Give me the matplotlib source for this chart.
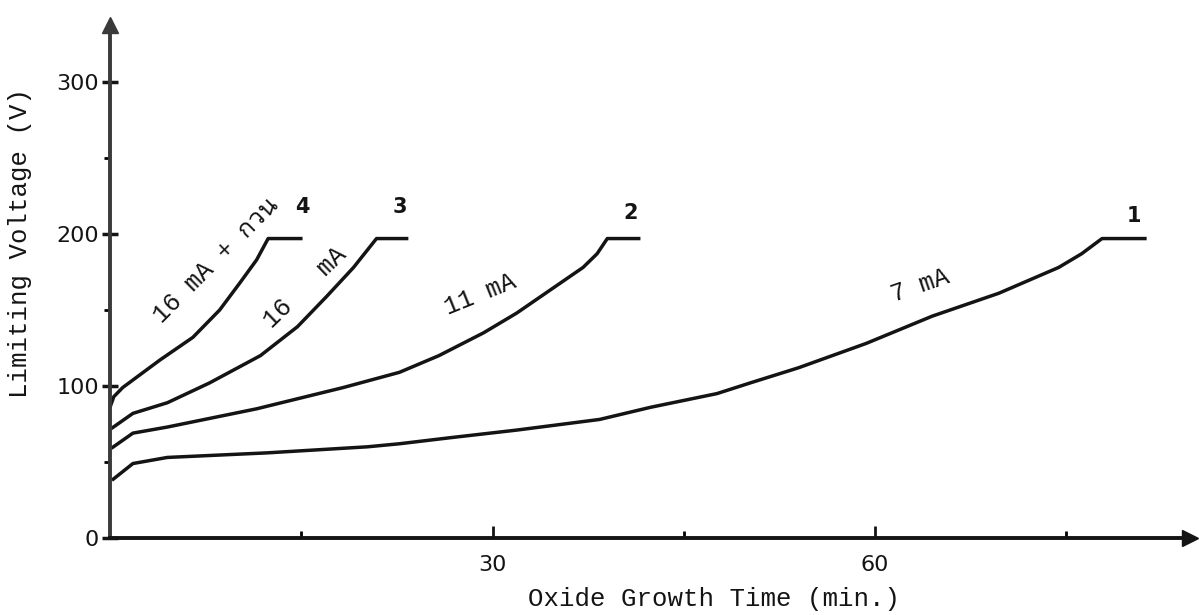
import matplotlib
matplotlib.use("Agg")
import matplotlib.pyplot as plt
from matplotlib import font_manager
from matplotlib.ft2font import FT2Font

# curve 1: 7 mA
t1 = [0.15, 1.8, 4.5, 12.3, 20.2, 22.7, 26.7, 31.9, 38.4, 42.4, 47.6, 50.2, 54.0, 59.3, 64.5, 69.7, 74.4, 76.2, 77.8, 81.3]
v1 = [38, 49, 53, 56, 60, 62, 66, 71, 78, 86, 95, 102, 112, 128, 146, 161, 178, 187, 197, 197]
# curve 2: 11 mA
t2 = [0.1, 1.8, 4.5, 11.5, 18.3, 22.7, 25.8, 29.3, 31.9, 34.5, 37.1, 38.2, 39.0, 41.6]
v2 = [59, 69, 73, 85, 99, 109, 120, 135, 148, 163, 178, 187, 197, 197]
# curve 3: 16 mA
t3 = [0.1, 1.8, 4.5, 7.8, 11.8, 14.7, 17.0, 19.1, 20.9, 23.4]
v3 = [72, 82, 89, 102, 120, 139, 159, 178, 197, 197]
# curve 4: 16 mA + stirring
t4 = [0.0, 0.3, 1.0, 3.9, 6.5, 8.6, 10.2, 11.5, 12.4, 15.1]
v4 = [86, 93, 99, 117, 132, 150, 168, 183, 197, 197]

curve_numbers = ["1", "2", "3", "4"]
number_pos = [(80.3, 212), (40.8, 214), (22.7, 218), (15.1, 218)]
curve_texts = ["7 mA", "11 mA", "16   mA", "16 mA + กวน"]
text_pos = [(63.5, 166), (29.0, 160), (15.3, 165), (8.3, 183)]
text_rot = [19, 22, 44, 45]

x_major = [30, 60]
x_minor = [15, 45, 75]
y_major = [0, 100, 200, 300]
y_minor = [50, 150, 250]


def thai_font():
    # look for any installed font that carries Thai glyphs
    for f in font_manager.fontManager.ttflist:
        try:
            if 0x0E01 in FT2Font(f.fname).get_charmap():
                return f.name
        except Exception:
            pass
    return None


mono = ["Liberation Mono"]
th = thai_font()
if th:
    mono = mono + [th]

ink = "#141414"
fig = plt.figure(figsize=(11.99, 6.15), dpi=100)
ax = fig.add_axes([110 / 1199, 77 / 615, 1080 / 1199, 513 / 615])

for t, v in [(t1, v1), (t2, v2), (t3, v3), (t4, v4)]:
    ax.plot(t, v, color=ink, lw=2.5, solid_capstyle="butt", solid_joinstyle="round")

for s, (x, y) in zip(curve_numbers, number_pos):
    ax.text(x, y, s, ha="center", va="center", fontsize=15, fontweight="bold",
            family="DejaVu Sans", color=ink)

for s, (x, y), r in zip(curve_texts, text_pos, text_rot):
    ax.text(x, y, s, ha="center", va="center", rotation=r, rotation_mode="anchor",
            fontsize=18, family=mono, color=ink)

ax.set_xlim(0, 84.7)
ax.set_ylim(0, 337.5)
ax.spines["top"].set_visible(False)
ax.spines["right"].set_visible(False)
ax.spines["left"].set_linewidth(2.8)
ax.spines["left"].set_color("#3a3a3a")
ax.spines["bottom"].set_linewidth(2.8)
ax.spines["bottom"].set_color(ink)

# arrow heads at the ends of both axes
ax.plot(1, 0, ">", ms=11, color=ink, transform=ax.transAxes, clip_on=False)
ax.plot(0, 1, "^", ms=11, color="#3a3a3a", transform=ax.transAxes, clip_on=False)

ax.set_xticks(x_major)
ax.set_xticks(x_minor, minor=True)
ax.set_yticks(y_major)
ax.set_yticks(y_minor, minor=True)
ax.tick_params(axis="x", which="major", direction="in", length=9, width=2, pad=12,
               labelsize=16, colors=ink)
ax.tick_params(axis="x", which="minor", direction="in", length=5, width=2)
ax.tick_params(axis="y", which="major", direction="inout", length=12, width=2.5, pad=2,
               labelsize=16, colors=ink)
ax.tick_params(axis="y", which="minor", direction="out", length=4, width=2)

ax.set_xlabel("Oxide Growth Time (min.)", fontsize=18.5, family="Liberation Mono",
              color=ink)
ax.set_ylabel("Limiting Voltage (V)", fontsize=18.5, family="Liberation Mono",
              color=ink)
ax.yaxis.set_label_coords(-0.072, 0.575)
ax.xaxis.set_label_coords(0.559, -0.095)

fig.savefig("out.png", dpi=100)
